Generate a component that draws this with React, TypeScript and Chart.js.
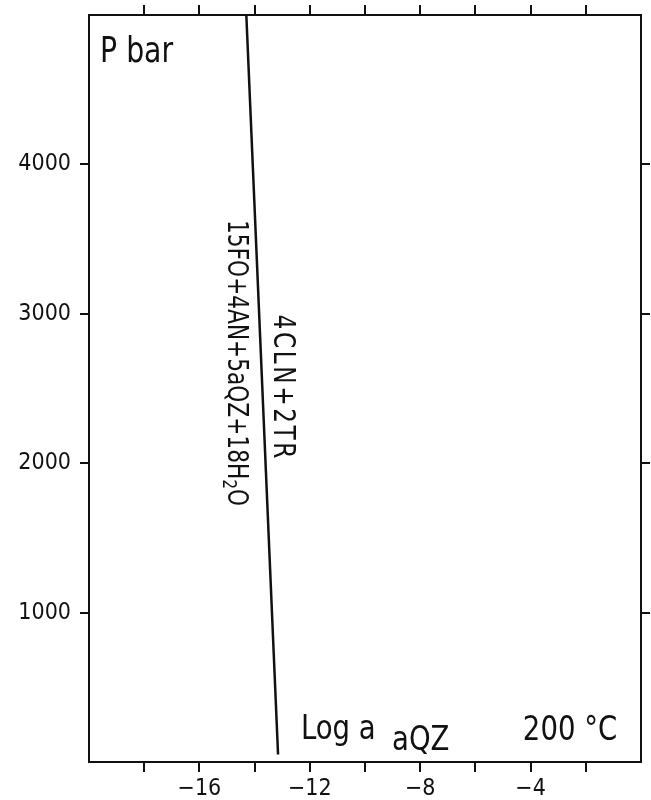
import React, { useEffect, useRef } from "react";
import { Chart, registerables } from "chart.js";

Chart.register(...registerables);

// ---- data ----
const xMin = -20;
const xMax = 0;
const yMin = 0;
const yMax = 5000;
const xTickValues = [-18, -16, -14, -12, -10, -8, -6, -4, -2];
const xLabelledValues = [-16, -12, -8, -4];
const xLabelTexts = ["\u221216", "\u221212", "\u22128", "\u22124"];
const yTickValues = [1000, 2000, 3000, 4000];
const yLabelTexts = ["1000", "2000", "3000", "4000"];
// reaction boundary: log a(aQZ) vs P (bar)
const boundaryLogA = [-14.3, -13.15];
const boundaryP = [5000, 50];

const FAMILY = "'DejaVu Sans Condensed', 'Liberation Sans Narrow', 'DejaVu Sans', sans-serif";

type Run = { t: string; size: number; dy: number };

function drawRuns(ctx: CanvasRenderingContext2D, runs: Run[], x: number, y: number) {
  let cx = x;
  for (const r of runs) {
    ctx.font = `${r.size}px ${FAMILY}`;
    ctx.fillText(r.t, cx, y + r.dy);
    cx += ctx.measureText(r.t).width;
  }
}
function runsWidth(ctx: CanvasRenderingContext2D, runs: Run[]) {
  let w = 0;
  for (const r of runs) {
    ctx.font = `${r.size}px ${FAMILY}`;
    w += ctx.measureText(r.t).width;
  }
  return w;
}

const SQ = 0.86; // horizontal squeeze for the narrow lettering (rotated labels)
const SQ2 = 0.9; // squeeze for the horizontal labels

const annotations = {
  id: "annotations",
  afterDraw(chart: any) {
    const { ctx } = chart;
    const x = chart.scales.x;
    const y = chart.scales.y;
    ctx.save();
    ctx.fillStyle = "#111";
    ctx.textBaseline = "alphabetic";
    ctx.textAlign = "left";
    const plain = (t: string, size: number, vx: number, vy: number) => {
      ctx.save();
      ctx.translate(x.getPixelForValue(vx), y.getPixelForValue(vy));
      ctx.scale(SQ2, 1);
      ctx.font = `${size}px ${FAMILY}`;
      ctx.fillText(t, 0, 0);
      ctx.restore();
    };
    plain("P bar", 35, -19.6, 4685);
    plain("Log a", 34, -12.32, 154);
    plain("aQZ", 34, -9.02, 80);
    plain("200 \u00B0C", 34, -4.28, 147);

    // rotated reaction labels
    const drawRot = (runs: Run[], vx: number, vy: number, spacing: number) => {
      const px = x.getPixelForValue(vx);
      const py = y.getPixelForValue(vy);
      ctx.save();
      ctx.translate(px, py);
      ctx.rotate(Math.PI / 2);
      ctx.scale(SQ, 1);
      ctx.textBaseline = "middle";
      (ctx as any).letterSpacing = `${spacing}px`;
      const w = runsWidth(ctx, runs);
      drawRuns(ctx, runs, -w / 2, 0);
      (ctx as any).letterSpacing = "0px";
      ctx.restore();
    };
    drawRot(
      [
        { t: "15FO+4AN+5aQZ+18H", size: 28, dy: 0 },
        { t: "2", size: 20, dy: 7 },
        { t: "O", size: 28, dy: 0 },
      ],
      -14.7,
      2670,
      0
    );
    drawRot([{ t: "4CLN+2TR", size: 30, dy: 0 }], -13.0, 2505, 3);
    ctx.restore();
  },
};

export default function App() {
  const ref = useRef<HTMLCanvasElement | null>(null);
  useEffect(() => {
    if (!ref.current) return;
    const tickFont = { family: FAMILY, size: 23 };
    const gridCommon = {
      drawOnChartArea: false,
      drawTicks: true,
      tickLength: 10,
      color: "#111",
      lineWidth: 2,
    };
    const borderCommon = { display: true, color: "#111", width: 2 };
    const noPad = (s: any) => {
      s.paddingTop = 0;
      s.paddingBottom = 0;
      s.paddingLeft = 0;
      s.paddingRight = 0;
    };
    const chart = new Chart(ref.current, {
      type: "scatter",
      data: {
        datasets: [
          {
            data: boundaryLogA.map((v, i) => ({ x: v, y: boundaryP[i] })),
            showLine: true,
            borderColor: "#111",
            borderWidth: 2.5,
            pointRadius: 0,
          },
        ],
      },
      options: {
        animation: false,
        responsive: true,
        maintainAspectRatio: false,
        layout: { padding: 0 },
        plugins: { legend: { display: false }, tooltip: { enabled: false } },
        scales: {
          x: {
            type: "linear",
            position: "bottom",
            min: xMin,
            max: xMax,
            afterBuildTicks: (s: any) => {
              s.ticks = xTickValues.map((v) => ({ value: v }));
            },
            afterFit: (s: any) => {
              s.height = 38;
              noPad(s);
            },
            ticks: {
              font: tickFont,
              color: "#111",
              padding: 3,
              maxRotation: 0,
              autoSkip: false,
              callback: (v: any) => {
                const i = xLabelledValues.indexOf(Number(v));
                return i >= 0 ? xLabelTexts[i] : "";
              },
            },
            grid: gridCommon,
            border: borderCommon,
          },
          x2: {
            type: "linear",
            position: "top",
            min: xMin,
            max: xMax,
            afterBuildTicks: (s: any) => {
              s.ticks = xTickValues.map((v) => ({ value: v }));
            },
            afterFit: (s: any) => {
              s.height = 15;
              noPad(s);
            },
            ticks: { display: false },
            grid: gridCommon,
            border: borderCommon,
          },
          y: {
            type: "linear",
            position: "left",
            min: yMin,
            max: yMax,
            afterBuildTicks: (s: any) => {
              s.ticks = yTickValues.map((v) => ({ value: v }));
            },
            afterFit: (s: any) => {
              s.width = 89;
              noPad(s);
            },
            ticks: {
              font: tickFont,
              color: "#111",
              padding: 9,
              autoSkip: false,
              callback: (v: any) => {
                const i = yTickValues.indexOf(Number(v));
                return i >= 0 ? yLabelTexts[i] : "";
              },
            },
            grid: { ...gridCommon, tickLength: 9 },
            border: borderCommon,
          },
          y2: {
            type: "linear",
            position: "right",
            min: yMin,
            max: yMax,
            afterBuildTicks: (s: any) => {
              s.ticks = yTickValues.map((v) => ({ value: v }));
            },
            afterFit: (s: any) => {
              s.width = 10;
              noPad(s);
            },
            ticks: { display: false },
            grid: { ...gridCommon, tickLength: 9 },
            border: borderCommon,
          },
        },
      } as any,
      plugins: [annotations],
    });
    return () => chart.destroy();
  }, []);
  return (
    <div style={{ position: "absolute", left: 0, top: 0, width: 651, height: 800, background: "#fff" }}>
      <canvas ref={ref} />
    </div>
  );
}
